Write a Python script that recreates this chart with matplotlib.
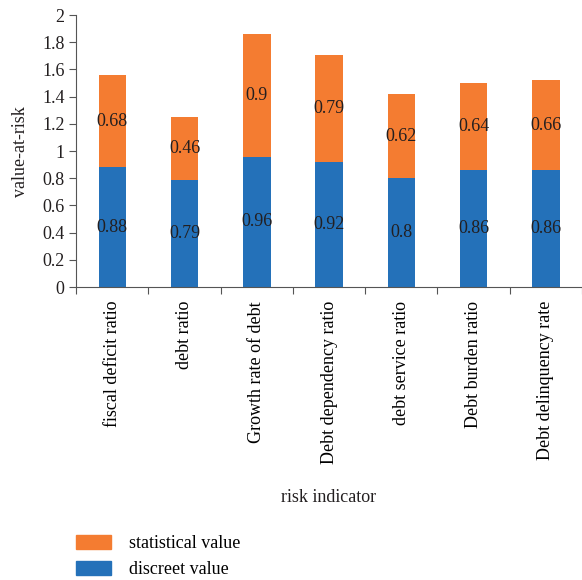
import matplotlib.pyplot as plt
import numpy as np
from matplotlib.patches import Patch

plt.rcParams['font.family'] = ['Liberation Serif', 'DejaVu Serif']

# risk indicators and their two value components
indicators = ["fiscal deficit ratio", "debt ratio", "Growth rate of debt",
              "Debt dependency ratio", "debt service ratio", "Debt burden ratio",
              "Debt delinquency rate"]
discreet = [0.88, 0.79, 0.96, 0.92, 0.8, 0.86, 0.86]
statistical = [0.68, 0.46, 0.9, 0.79, 0.62, 0.64, 0.66]
yticks = [0, 0.2, 0.4, 0.6, 0.8, 1, 1.2, 1.4, 1.6, 1.8, 2]

c_blue = '#2471b9'
c_orange = '#f47c31'
fs = 13

fig = plt.figure(figsize=(5.82, 5.80), dpi=100)
ax = fig.add_axes([0.131, 0.505, 0.869, 0.469])

x = np.arange(len(indicators))
w = 0.38
ax.bar(x, discreet, w, color=c_blue)
ax.bar(x, statistical, w, bottom=discreet, color=c_orange)

# value labels in the middle of each segment
for xi, d, s in zip(x, discreet, statistical):
    ax.text(xi, d / 2, f"{d:g}", ha='center', va='center', fontsize=fs, color='#231f20')
    ax.text(xi, d + s / 2, f"{s:g}", ha='center', va='center', fontsize=fs, color='#231f20')

ax.set_xlim(-0.5, 6.46)
ax.set_ylim(0, 2)
ax.set_yticks(yticks)
ax.set_yticklabels([f"{v:g}" for v in yticks], fontsize=fs)
ax.set_xticks(np.arange(len(indicators) + 1) - 0.5, minor=False)
ax.set_xticklabels([])
ax.set_xticks(x, minor=True)
ax.set_xticklabels(indicators, minor=True, rotation=90, fontsize=fs)
ax.tick_params(axis='x', which='minor', length=0, pad=10)
ax.tick_params(axis='x', which='major', length=5, direction='out', color='#555555')
ax.tick_params(axis='y', length=5, direction='out', color='#555555', labelcolor='#231f20')
for s in ['top', 'right']:
    ax.spines[s].set_visible(False)
for s in ['left', 'bottom']:
    ax.spines[s].set_color('#555555')

ax.set_ylabel("value-at-risk", fontsize=fs, color='#231f20', labelpad=9)
fig.text(0.565, 0.143, "risk indicator", ha='center', va='center', fontsize=fs, color='#231f20')

handles = [Patch(color=c_orange, label="statistical value"),
           Patch(color=c_blue, label="discreet value")]
fig.legend(handles=handles, loc='upper left', bbox_to_anchor=(0.118, 0.090),
           frameon=False, fontsize=fs, handlelength=1.95, handleheight=0.85,
           handletextpad=1.0, labelspacing=0.45, borderaxespad=0)

fig.savefig("out.png", dpi=100)
